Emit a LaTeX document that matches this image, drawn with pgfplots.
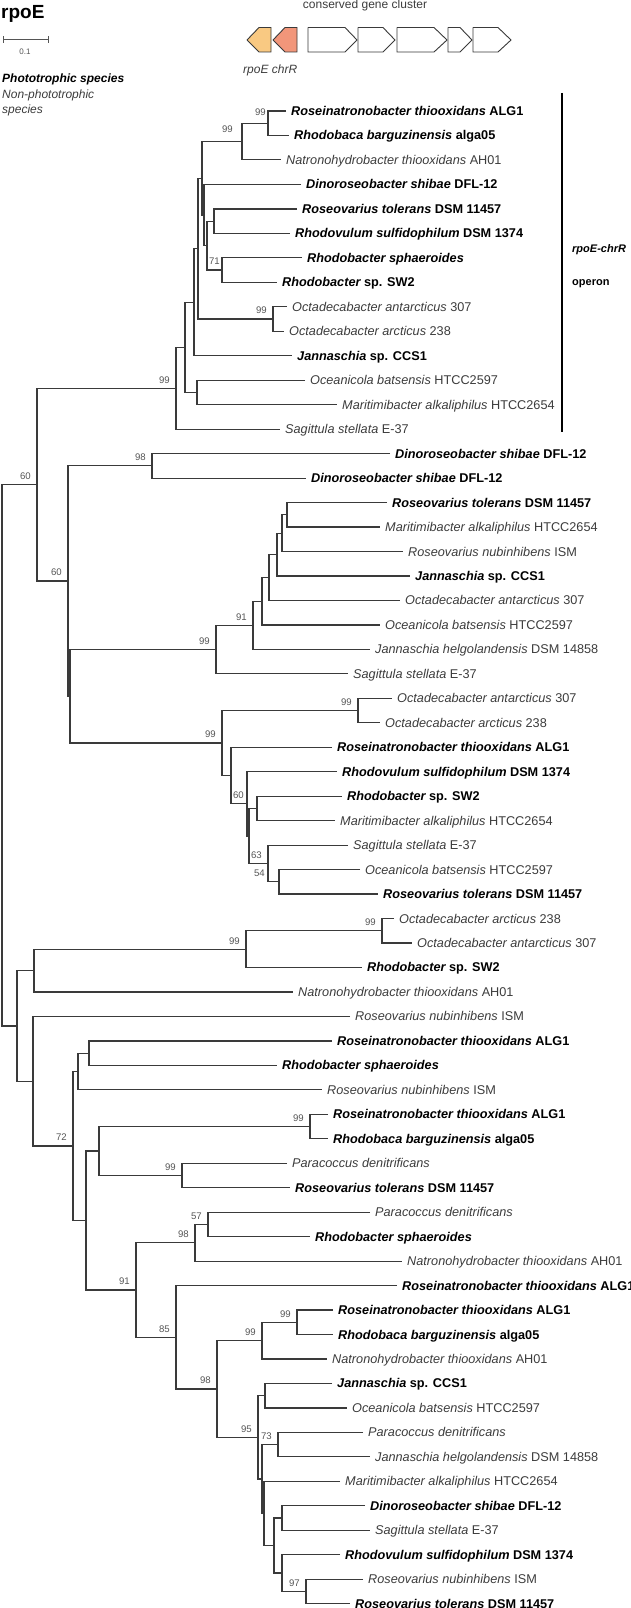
\documentclass[border=0pt]{standalone}
\usepackage{fontspec}
\setmainfont{Liberation Sans}
\usepackage{pgfplots}
\pgfplotsset{compat=1.18}
\definecolor{brc}{HTML}{3A3A3A}
\definecolor{txt}{HTML}{3C3C3C}
\definecolor{bsc}{HTML}{555555}
\definecolor{rpo}{HTML}{F9C982}
\definecolor{chr}{HTML}{F2967A}
\pgfplotsset{brl/.style={color=brc, line width=1.2pt, no markers}}
\tikzset{
 lab/.style={anchor=base west, inner sep=0pt, xshift=5pt, yshift=-4.5pt, font=\fontsize{12.7}{14}\selectfont},
 bsl/.style={anchor=base east, inner sep=0pt, xshift=-6pt, yshift=5.1pt, font=\fontsize{9.6}{11}\selectfont, text=bsc}
}
% bracket: node x, child A (x,y), child B (x,y)
\newcommand\br[5]{\addplot[brl] coordinates {(#2,#3) (#1,#3) (#1,#5) (#4,#5)};}
\newcommand\lfB[4]{\node[lab, text=black] at (axis cs:#1,#2) {{\bfseries\itshape #3} {\bfseries #4}};}
\newcommand\lfN[4]{\node[lab, text=txt] at (axis cs:#1,#2) {{\itshape #3} #4};}
\newcommand\bs[3]{\node[bsl] at (axis cs:#1,#2) {#3};}
\begin{document}
\begin{tikzpicture}
\begin{axis}[width=630pt, height=1608pt, scale only axis, xmin=0, xmax=630, ymin=0, ymax=1608,
  y dir=reverse, hide axis, clip=false]
% ---------- header ----------
\node[anchor=base west, inner sep=0pt, font=\fontsize{19}{20}\selectfont\bfseries] at (axis cs:1,19) {rpoE};
\addplot[color=bsc, line width=1pt] coordinates {(3,40) (48,40)};
\addplot[color=bsc, line width=1pt] coordinates {(3,36.5) (3,43.5)};
\addplot[color=bsc, line width=1pt] coordinates {(48,36.5) (48,43.5)};
\node[inner sep=0pt, font=\fontsize{8}{9}\selectfont, text=bsc] at (axis cs:25,52) {0.1};
\node[anchor=base west, inner sep=0pt, font=\fontsize{12}{13}\selectfont\bfseries\itshape] at (axis cs:2,83) {Phototrophic species};
\node[anchor=base west, inner sep=0pt, font=\fontsize{12}{13}\selectfont\itshape, text=txt] at (axis cs:2,98.5) {Non-phototrophic};
\node[anchor=base west, inner sep=0pt, font=\fontsize{12}{13}\selectfont\itshape, text=txt] at (axis cs:2,114) {species};
\node[anchor=base, inner sep=0pt, font=\fontsize{12}{13}\selectfont, text=txt] at (axis cs:365,9) {conserved gene cluster};
% gene arrows
\addplot[fill=rpo, draw=brc, line width=0.9pt] coordinates {(247,40) (259,27.5) (271,27.5) (271,52) (259,52) (247,40)};
\addplot[fill=chr, draw=brc, line width=0.9pt] coordinates {(273,40) (285,27.5) (297,27.5) (297,52) (285,52) (273,40)};
\addplot[fill=white, draw=brc, line width=0.9pt] coordinates {(308,27.5) (345,27.5) (357,40) (345,52) (308,52) (308,27.5)};
\addplot[fill=white, draw=brc, line width=0.9pt] coordinates {(358,27.5) (383,27.5) (395,40) (383,52) (358,52) (358,27.5)};
\addplot[fill=white, draw=brc, line width=0.9pt] coordinates {(397,27.5) (434,27.5) (447,40) (434,52) (397,52) (397,27.5)};
\addplot[fill=white, draw=brc, line width=0.9pt] coordinates {(448,27.5) (460,27.5) (472,40) (460,52) (448,52) (448,27.5)};
\addplot[fill=white, draw=brc, line width=0.9pt] coordinates {(473,27.5) (498,27.5) (511,40) (498,52) (473,52) (473,27.5)};
\node[anchor=base west, inner sep=0pt, font=\fontsize{12}{13}\selectfont\itshape, text=txt] at (axis cs:243,74) {rpoE chrR};
% operon bar
\addplot[color=black, line width=2pt] coordinates {(562,93) (562,432)};
\node[anchor=base west, inner sep=0pt, font=\fontsize{11}{12}\selectfont\bfseries\itshape] at (axis cs:572,252) {rpoE-chrR};
\node[anchor=base west, inner sep=0pt, font=\fontsize{11}{12}\selectfont\bfseries] at (axis cs:572,285) {operon};
% ---------- tree branches ----------
\br{268}{286}{111.0}{289}{135.5}
\br{242}{268}{123.2}{281}{159.9}
\br{214}{297}{208.9}{290}{233.4}
\br{222}{302}{257.8}{277}{282.3}
\br{207}{214}{221.2}{222}{270.0}
\br{204}{301}{184.4}{207}{245.6}
\br{202}{242}{141.6}{204}{215.0}
\br{273}{287}{306.8}{284}{331.2}
\br{198}{202}{178.3}{273}{319.0}
\br{194}{198}{248.7}{292}{355.7}
\br{197}{305}{380.2}{337}{404.6}
\br{185}{194}{302.2}{197}{392.4}
\br{176}{185}{347.3}{280}{429.1}
\br{152}{390}{453.6}{306}{478.1}
\br{287}{387}{502.5}{380}{527.0}
\br{282}{287}{514.8}{403}{551.5}
\br{277}{282}{533.1}{410}{575.9}
\br{269}{277}{554.5}{400}{600.4}
\br{262}{269}{577.5}{380}{624.9}
\br{253}{262}{601.2}{370}{649.3}
\br{216}{253}{625.3}{348}{673.8}
\br{358}{392}{698.3}{380}{722.7}
\br{257}{342}{796.2}{335}{820.6}
\br{279}{360}{869.6}{378}{894.0}
\br{268}{348}{845.1}{279}{881.8}
\br{249}{257}{808.4}{268}{863.5}
\br{247}{337}{771.7}{249}{836.0}
\br{231}{332}{747.2}{247}{803.8}
\br{222}{358}{710.5}{231}{775.5}
\br{70}{216}{649.5}{222}{743.0}
\br{68}{152}{465.8}{70}{696.3}
\br{37}{176}{388.2}{68}{581.0}
\br{382}{394}{918.5}{412}{943.0}
\br{246}{382}{930.8}{362}{967.4}
\br{34}{246}{949.1}{293}{991.9}
\br{89}{332}{1040.9}{277}{1065.3}
\br{78}{89}{1053.1}{322}{1089.8}
\br{310}{328}{1114.3}{328}{1138.7}
\br{182}{287}{1163.2}{290}{1187.7}
\br{99}{310}{1126.5}{182}{1175.4}
\br{208}{370}{1212.1}{310}{1236.6}
\br{195}{208}{1224.4}{402}{1261.1}
\br{297}{333}{1310.0}{333}{1334.5}
\br{262}{297}{1322.2}{327}{1359.0}
\br{265}{332}{1383.4}{347}{1407.9}
\br{278}{363}{1432.4}{370}{1456.8}
\br{306}{363}{1579.2}{350}{1603.6}
\br{282}{340}{1554.7}{306}{1591.4}
\br{282}{365}{1505.8}{370}{1530.2}
\br{274}{282}{1518.0}{282}{1573.0}
\br{264}{340}{1481.3}{274}{1545.5}
\br{262}{278}{1444.6}{264}{1513.4}
\br{258}{265}{1395.7}{262}{1479.0}
\br{217}{262}{1340.6}{258}{1437.4}
\br{176}{397}{1285.5}{217}{1389.0}
\br{136}{195}{1242.7}{176}{1337.3}
\br{86}{99}{1151.0}{136}{1290.0}
\br{73}{78}{1071.5}{86}{1220.5}
\br{33}{350}{1016.4}{73}{1146.0}
\br{17}{34}{970.5}{33}{1081.2}
\br{2}{37}{484.6}{17}{1025.9}
% ---------- bootstrap values ----------
\bs{272}{121}{99}
\bs{239}{138}{99}
\bs{226}{270.0}{71}
\bs{273}{319.0}{99}
\bs{176}{388.2}{99}
\bs{152}{465.8}{98}
\bs{253}{625.3}{91}
\bs{216}{649.5}{99}
\bs{358}{710.5}{99}
\bs{250}{803.8}{60}
\bs{268}{863.5}{63}
\bs{271}{881.8}{54}
\bs{222}{743.0}{99}
\bs{68}{581.0}{60}
\bs{37}{484.6}{60}
\bs{382}{930.8}{99}
\bs{246}{949.1}{99}
\bs{310}{1126.5}{99}
\bs{182}{1175.4}{99}
\bs{208}{1224.4}{57}
\bs{195}{1242.7}{98}
\bs{297}{1322.2}{99}
\bs{262}{1340.6}{99}
\bs{278}{1444.6}{73}
\bs{306}{1591.4}{97}
\bs{258}{1437.4}{95}
\bs{217}{1389.0}{98}
\bs{176}{1337.3}{85}
\bs{136}{1290.0}{91}
\bs{73}{1146.0}{72}
% ---------- leaf labels ----------
\lfB{286}{111.0}{Roseinatronobacter thiooxidans}{ALG1}
\lfB{289}{135.5}{Rhodobaca barguzinensis}{alga05}
\lfN{281}{159.9}{Natronohydrobacter thiooxidans}{AH01}
\lfB{301}{184.4}{Dinoroseobacter shibae}{DFL-12}
\lfB{297}{208.9}{Roseovarius tolerans}{DSM 11457}
\lfB{290}{233.4}{Rhodovulum sulfidophilum}{DSM 1374}
\lfB{302}{257.8}{Rhodobacter sphaeroides}{}
\lfB{277}{282.3}{Rhodobacter}{sp. SW2}
\lfN{287}{306.8}{Octadecabacter antarcticus}{307}
\lfN{284}{331.2}{Octadecabacter arcticus}{238}
\lfB{292}{355.7}{Jannaschia}{sp. CCS1}
\lfN{305}{380.2}{Oceanicola batsensis}{HTCC2597}
\lfN{337}{404.6}{Maritimibacter alkaliphilus}{HTCC2654}
\lfN{280}{429.1}{Sagittula stellata}{E-37}
\lfB{390}{453.6}{Dinoroseobacter shibae}{DFL-12}
\lfB{306}{478.1}{Dinoroseobacter shibae}{DFL-12}
\lfB{387}{502.5}{Roseovarius tolerans}{DSM 11457}
\lfN{380}{527.0}{Maritimibacter alkaliphilus}{HTCC2654}
\lfN{403}{551.5}{Roseovarius nubinhibens}{ISM}
\lfB{410}{575.9}{Jannaschia}{sp. CCS1}
\lfN{400}{600.4}{Octadecabacter antarcticus}{307}
\lfN{380}{624.9}{Oceanicola batsensis}{HTCC2597}
\lfN{370}{649.3}{Jannaschia helgolandensis}{DSM 14858}
\lfN{348}{673.8}{Sagittula stellata}{E-37}
\lfN{392}{698.3}{Octadecabacter antarcticus}{307}
\lfN{380}{722.7}{Octadecabacter arcticus}{238}
\lfB{332}{747.2}{Roseinatronobacter thiooxidans}{ALG1}
\lfB{337}{771.7}{Rhodovulum sulfidophilum}{DSM 1374}
\lfB{342}{796.2}{Rhodobacter}{sp. SW2}
\lfN{335}{820.6}{Maritimibacter alkaliphilus}{HTCC2654}
\lfN{348}{845.1}{Sagittula stellata}{E-37}
\lfN{360}{869.6}{Oceanicola batsensis}{HTCC2597}
\lfB{378}{894.0}{Roseovarius tolerans}{DSM 11457}
\lfN{394}{918.5}{Octadecabacter arcticus}{238}
\lfN{412}{943.0}{Octadecabacter antarcticus}{307}
\lfB{362}{967.4}{Rhodobacter}{sp. SW2}
\lfN{293}{991.9}{Natronohydrobacter thiooxidans}{AH01}
\lfN{350}{1016.4}{Roseovarius nubinhibens}{ISM}
\lfB{332}{1040.9}{Roseinatronobacter thiooxidans}{ALG1}
\lfB{277}{1065.3}{Rhodobacter sphaeroides}{}
\lfN{322}{1089.8}{Roseovarius nubinhibens}{ISM}
\lfB{328}{1114.3}{Roseinatronobacter thiooxidans}{ALG1}
\lfB{328}{1138.7}{Rhodobaca barguzinensis}{alga05}
\lfN{287}{1163.2}{Paracoccus denitrificans}{}
\lfB{290}{1187.7}{Roseovarius tolerans}{DSM 11457}
\lfN{370}{1212.1}{Paracoccus denitrificans}{}
\lfB{310}{1236.6}{Rhodobacter sphaeroides}{}
\lfN{402}{1261.1}{Natronohydrobacter thiooxidans}{AH01}
\lfB{397}{1285.5}{Roseinatronobacter thiooxidans}{ALG1}
\lfB{333}{1310.0}{Roseinatronobacter thiooxidans}{ALG1}
\lfB{333}{1334.5}{Rhodobaca barguzinensis}{alga05}
\lfN{327}{1359.0}{Natronohydrobacter thiooxidans}{AH01}
\lfB{332}{1383.4}{Jannaschia}{sp. CCS1}
\lfN{347}{1407.9}{Oceanicola batsensis}{HTCC2597}
\lfN{363}{1432.4}{Paracoccus denitrificans}{}
\lfN{370}{1456.8}{Jannaschia helgolandensis}{DSM 14858}
\lfN{340}{1481.3}{Maritimibacter alkaliphilus}{HTCC2654}
\lfB{365}{1505.8}{Dinoroseobacter shibae}{DFL-12}
\lfN{370}{1530.2}{Sagittula stellata}{E-37}
\lfB{340}{1554.7}{Rhodovulum sulfidophilum}{DSM 1374}
\lfN{363}{1579.2}{Roseovarius nubinhibens}{ISM}
\lfB{350}{1603.6}{Roseovarius tolerans}{DSM 11457}
\end{axis}
\pgfresetboundingbox
\useasboundingbox (current axis.south west) rectangle (current axis.north east);
\end{tikzpicture}
\end{document}
